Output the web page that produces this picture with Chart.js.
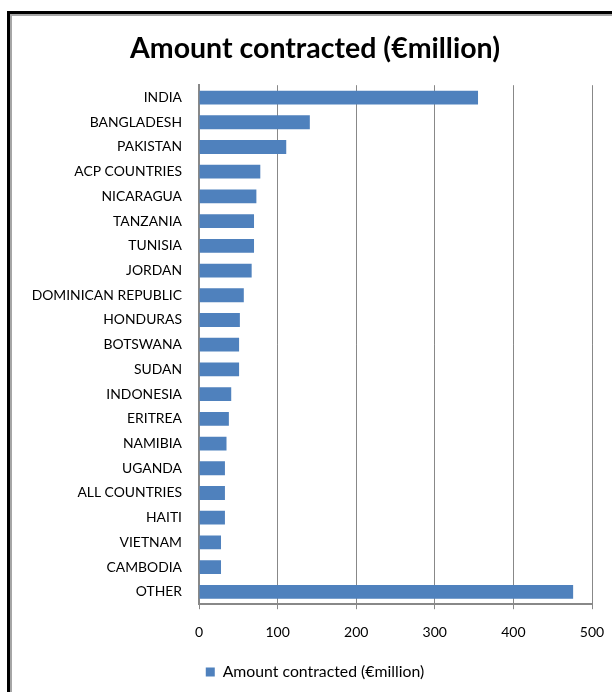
<!DOCTYPE html>
<html>
<head>
<meta charset="utf-8">
<script src="https://cdn.jsdelivr.net/npm/chart.js@4.4.1/dist/chart.umd.min.js"></script>
<style>
  html, body { margin: 0; padding: 0; background: #fff; overflow: hidden; }
  #frame {
    position: absolute; left: 7px; top: 11px; width: 700px; height: 800px;
    border: 3px solid #000; box-shadow: inset 2px 2px 0 #a6a6a6;
  }
  #wrap { position: absolute; left: 0; top: 0; width: 630px; height: 692px; }
</style>
</head>
<body>
<div id="frame"></div>
<div id="wrap"><canvas id="chart" width="630" height="692"></canvas></div>
<script>
// Countries / programmes, top to bottom
const countries = [
  'INDIA', 'BANGLADESH', 'PAKISTAN', 'ACP COUNTRIES', 'NICARAGUA', 'TANZANIA',
  'TUNISIA', 'JORDAN', 'DOMINICAN REPUBLIC', 'HONDURAS', 'BOTSWANA', 'SUDAN',
  'INDONESIA', 'ERITREA', 'NAMIBIA', 'UGANDA', 'ALL COUNTRIES', 'HAITI',
  'VIETNAM', 'CAMBODIA', 'OTHER'
];

// Amount contracted, EUR million
const amounts = [
  355, 141, 111, 78, 73, 70,
  70, 67, 57, 52, 51, 51,
  41, 38, 35, 33, 33, 33,
  28, 28, 476
];

const seriesName = 'Amount contracted (€million)';
const xTicks = [0, 100, 200, 300, 400, 500];

const font = "Lato, 'Open Sans', sans-serif";

const ctx = document.getElementById('chart').getContext('2d');
new Chart(ctx, {
  type: 'bar',
  data: {
    labels: countries,
    datasets: [{
      label: seriesName,
      data: amounts,
      backgroundColor: '#4f81bd',
      borderWidth: 0,
      barPercentage: 0.56,
      categoryPercentage: 1
    }]
  },
  options: {
    indexAxis: 'y',
    responsive: false,
    animation: false,
    layout: { padding: { left: 0, right: 0, top: 0, bottom: 2 } },
    plugins: {
      title: {
        display: true,
        text: seriesName,
        color: '#000',
        font: { family: font, size: 28.5, weight: 'bold' },
        padding: { top: 32, bottom: 19 }
      },
      legend: {
        position: 'bottom',
        labels: {
          color: '#000',
          font: { family: font, size: 15.8 },
          boxWidth: 9,
          boxHeight: 9,
          padding: 10
        }
      },
      tooltip: { enabled: false }
    },
    scales: {
      x: {
        min: 0,
        max: 500,
        afterBuildTicks: function(scale) {
          scale.ticks = xTicks.map(function(v) { return { value: v }; });
        },
        afterFit: function(scale) { scale.height = 50; },
        grid: { color: '#888', lineWidth: 1, tickLength: 5 },
        border: { color: '#888', width: 2 },
        ticks: {
          color: '#000',
          font: { family: font, size: 14 },
          padding: 15,
          maxRotation: 0
        }
      },
      y: {
        afterFit: function(scale) { scale.width = 199; },
        grid: { display: false, drawTicks: false },
        border: { color: '#888', width: 2 },
        ticks: {
          color: '#000',
          autoSkip: false,
          font: { family: font, size: 13.9 },
          padding: 17
        }
      },
      // empty spacer on the right so the 500 label fits and the title stays centred
      spacer: {
        type: 'linear',
        axis: 'y',
        position: 'right',
        afterFit: function(scale) { scale.width = 38; },
        grid: { display: false, drawTicks: false },
        border: { display: false },
        ticks: { display: false }
      }
    }
  }
});
</script>
</body>
</html>
